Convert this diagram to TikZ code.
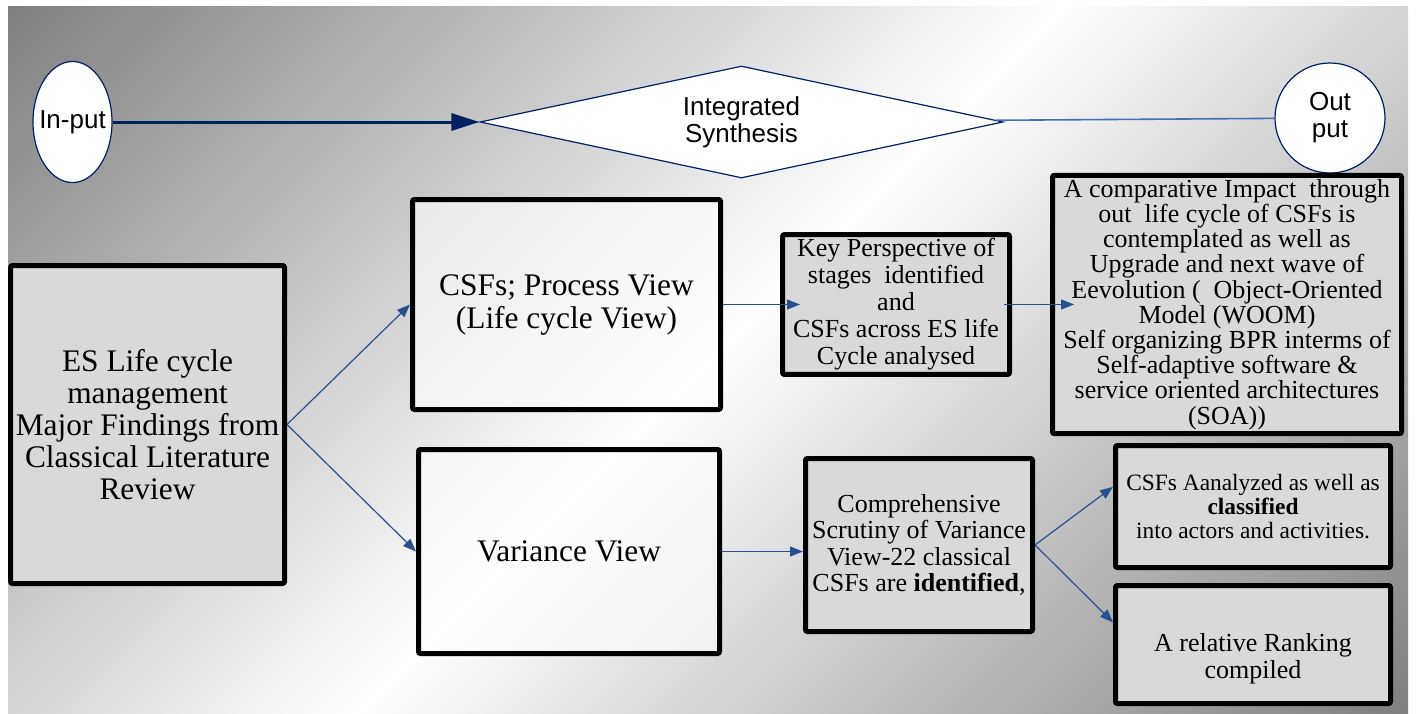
\documentclass[tikz,border=0pt]{standalone}
\usepackage{fontspec}
\setmainfont{Liberation Serif}
\newfontfamily\arialfont{Liberation Sans}
\usepackage{xcolor}
\usetikzlibrary{shapes, arrows.meta, positioning}

\pgfdeclareverticalshading{backshade}{100bp}{color(0bp)=(gray); color(14.6bp)=(gray); color(50bp)=(white); color(85.4bp)=(gray); color(100bp)=(gray)}

\newcommand{\fsz}[2]{\fontsize{#1}{#2}\selectfont}

\begin{document}
\begin{tikzpicture}[x=0.5pt, y=-0.5pt, node distance = 165pt, auto]

\definecolor{my_navy}{RGB}{0,32,96}
\definecolor{my_blue}{RGB}{40,80,140}
\definecolor{my_blue_light}{RGB}{70,110,180}
\definecolor{my_gray_light}{RGB}{217,217,217}

\tikzstyle{oval} = [ellipse, draw=my_navy, line width=0.6pt, fill=white, inner sep=0pt, align=center, font=\arialfont\fsz{13pt}{13.5pt}]
\tikzstyle{roundio} = [oval, circle]
\tikzstyle{decision} = [diamond, aspect=4.67, draw=my_navy, line width=0.6pt, fill=white, inner sep=0pt, align=center, font=\arialfont\fsz{13pt}{13.5pt}]
\tikzstyle{block} = [rectangle, draw=black, line width=2.5pt, rounded corners=1pt, fill=my_gray_light, align=center, inner sep=2pt]
\tikzstyle{viewblock} = [block, fill=white, fill opacity=0.6, text opacity=1]
\tikzstyle{line} = [draw, my_blue, line width=0.6pt]
\tikzstyle{arrowline} = [-{Triangle[length=6.5pt, width=5pt]}]

\useasboundingbox (0,0) rectangle (1418,713);
\shade [shading=backshade, shading angle=45] (8,6) rectangle (1408,713);

	\node [oval, inner xsep=-3pt, minimum width=39.5pt, minimum height=60.5pt] (input) at (72.5,122) {In-put};
	\node [decision, minimum width=261.5pt, minimum height=56pt] (synth) at (741.5,122) {Integrated\\Synthesis};
	\node [roundio, minimum size=55pt] (output) at (1330,118) {Out\\put};

	\node [block, minimum width=137pt, minimum height=159pt, font=\fsz{15.7pt}{16pt}] (es) at (147.5,424.5) {ES Life cycle\\management\\Major Findings from\\Classical Literature\\Review};

	\node [viewblock, minimum width=154pt, minimum height=105pt, font=\fsz{15.7pt}{16.5pt}] (process) at (566.5,304.5) {CSFs; Process View\\(Life cycle View)};
	\node [block, right of=process, node distance=164.75pt, minimum width=113.5pt, minimum height=69pt, font=\fsz{13pt}{13.5pt}] (key) {Key Perspective of\\stages~~identified\\and\\CSFs across ES life\\Cycle analysed};
	\node [block, right of=key, node distance=165.5pt, minimum width=174.5pt, minimum height=128pt, font=\fsz{13pt}{12.6pt}] (impact) {A comparative Impact~~through\\out~~life cycle of CSFs is\\contemplated as well as\\Upgrade and next wave of\\Eevolution (~~Object-Oriented\\Model (WOOM)\\Self organizing BPR interms of\\Self-adaptive software \&\\service oriented architectures\\(SOA))};

	\node [viewblock, minimum width=150.5pt, minimum height=102pt, font=\fsz{15.7pt}{16.5pt}] (variance) at (569,551.5) {Variance View};
	\node [block, minimum width=113.5pt, minimum height=86.5pt, font=\fsz{13pt}{13.3pt}] (scrutiny) at (919,545) {Comprehensive\\Scrutiny of Variance\\View-22 classical\\CSFs are \textbf{identified},};
	\node [block, minimum width=137.5pt, minimum height=61pt, font=\fsz{11.7pt}{12pt}] (classify) at (1253,506.5) {CSFs Aanalyzed as well as\\\textbf{classified}\\into actors and activities.};
	\node [block, below of=classify, node distance=69pt, minimum width=137.5pt, minimum height=59pt, font=\fsz{13pt}{13.5pt}] (ranking) {\strut\\A relative Ranking\\compiled};

	\path [line, my_navy, line width=1.5pt, -{Triangle[length=14pt, width=8.5pt]}] (input) -- (synth);
	\path [line, my_blue_light, line width=0.8pt] (synth) -- (output);
	\path [line, arrowline] (es.east) -- (process.west);
	\path [line, arrowline] (es.east) -- (variance.west);
	\path [line, arrowline, shorten >=-10pt] (process.east) -- (key.west);
	\path [line, arrowline, shorten <=-4pt, shorten >=-12pt] (key.east) -- (impact.west);
	\path [line, arrowline] (variance.east) -- (variance.east -| scrutiny.west);
	\path [line, arrowline] (scrutiny.east) -- (classify.172);
	\path [line, arrowline] (scrutiny.east) -- (ranking.171);

\end{tikzpicture}
\end{document}
